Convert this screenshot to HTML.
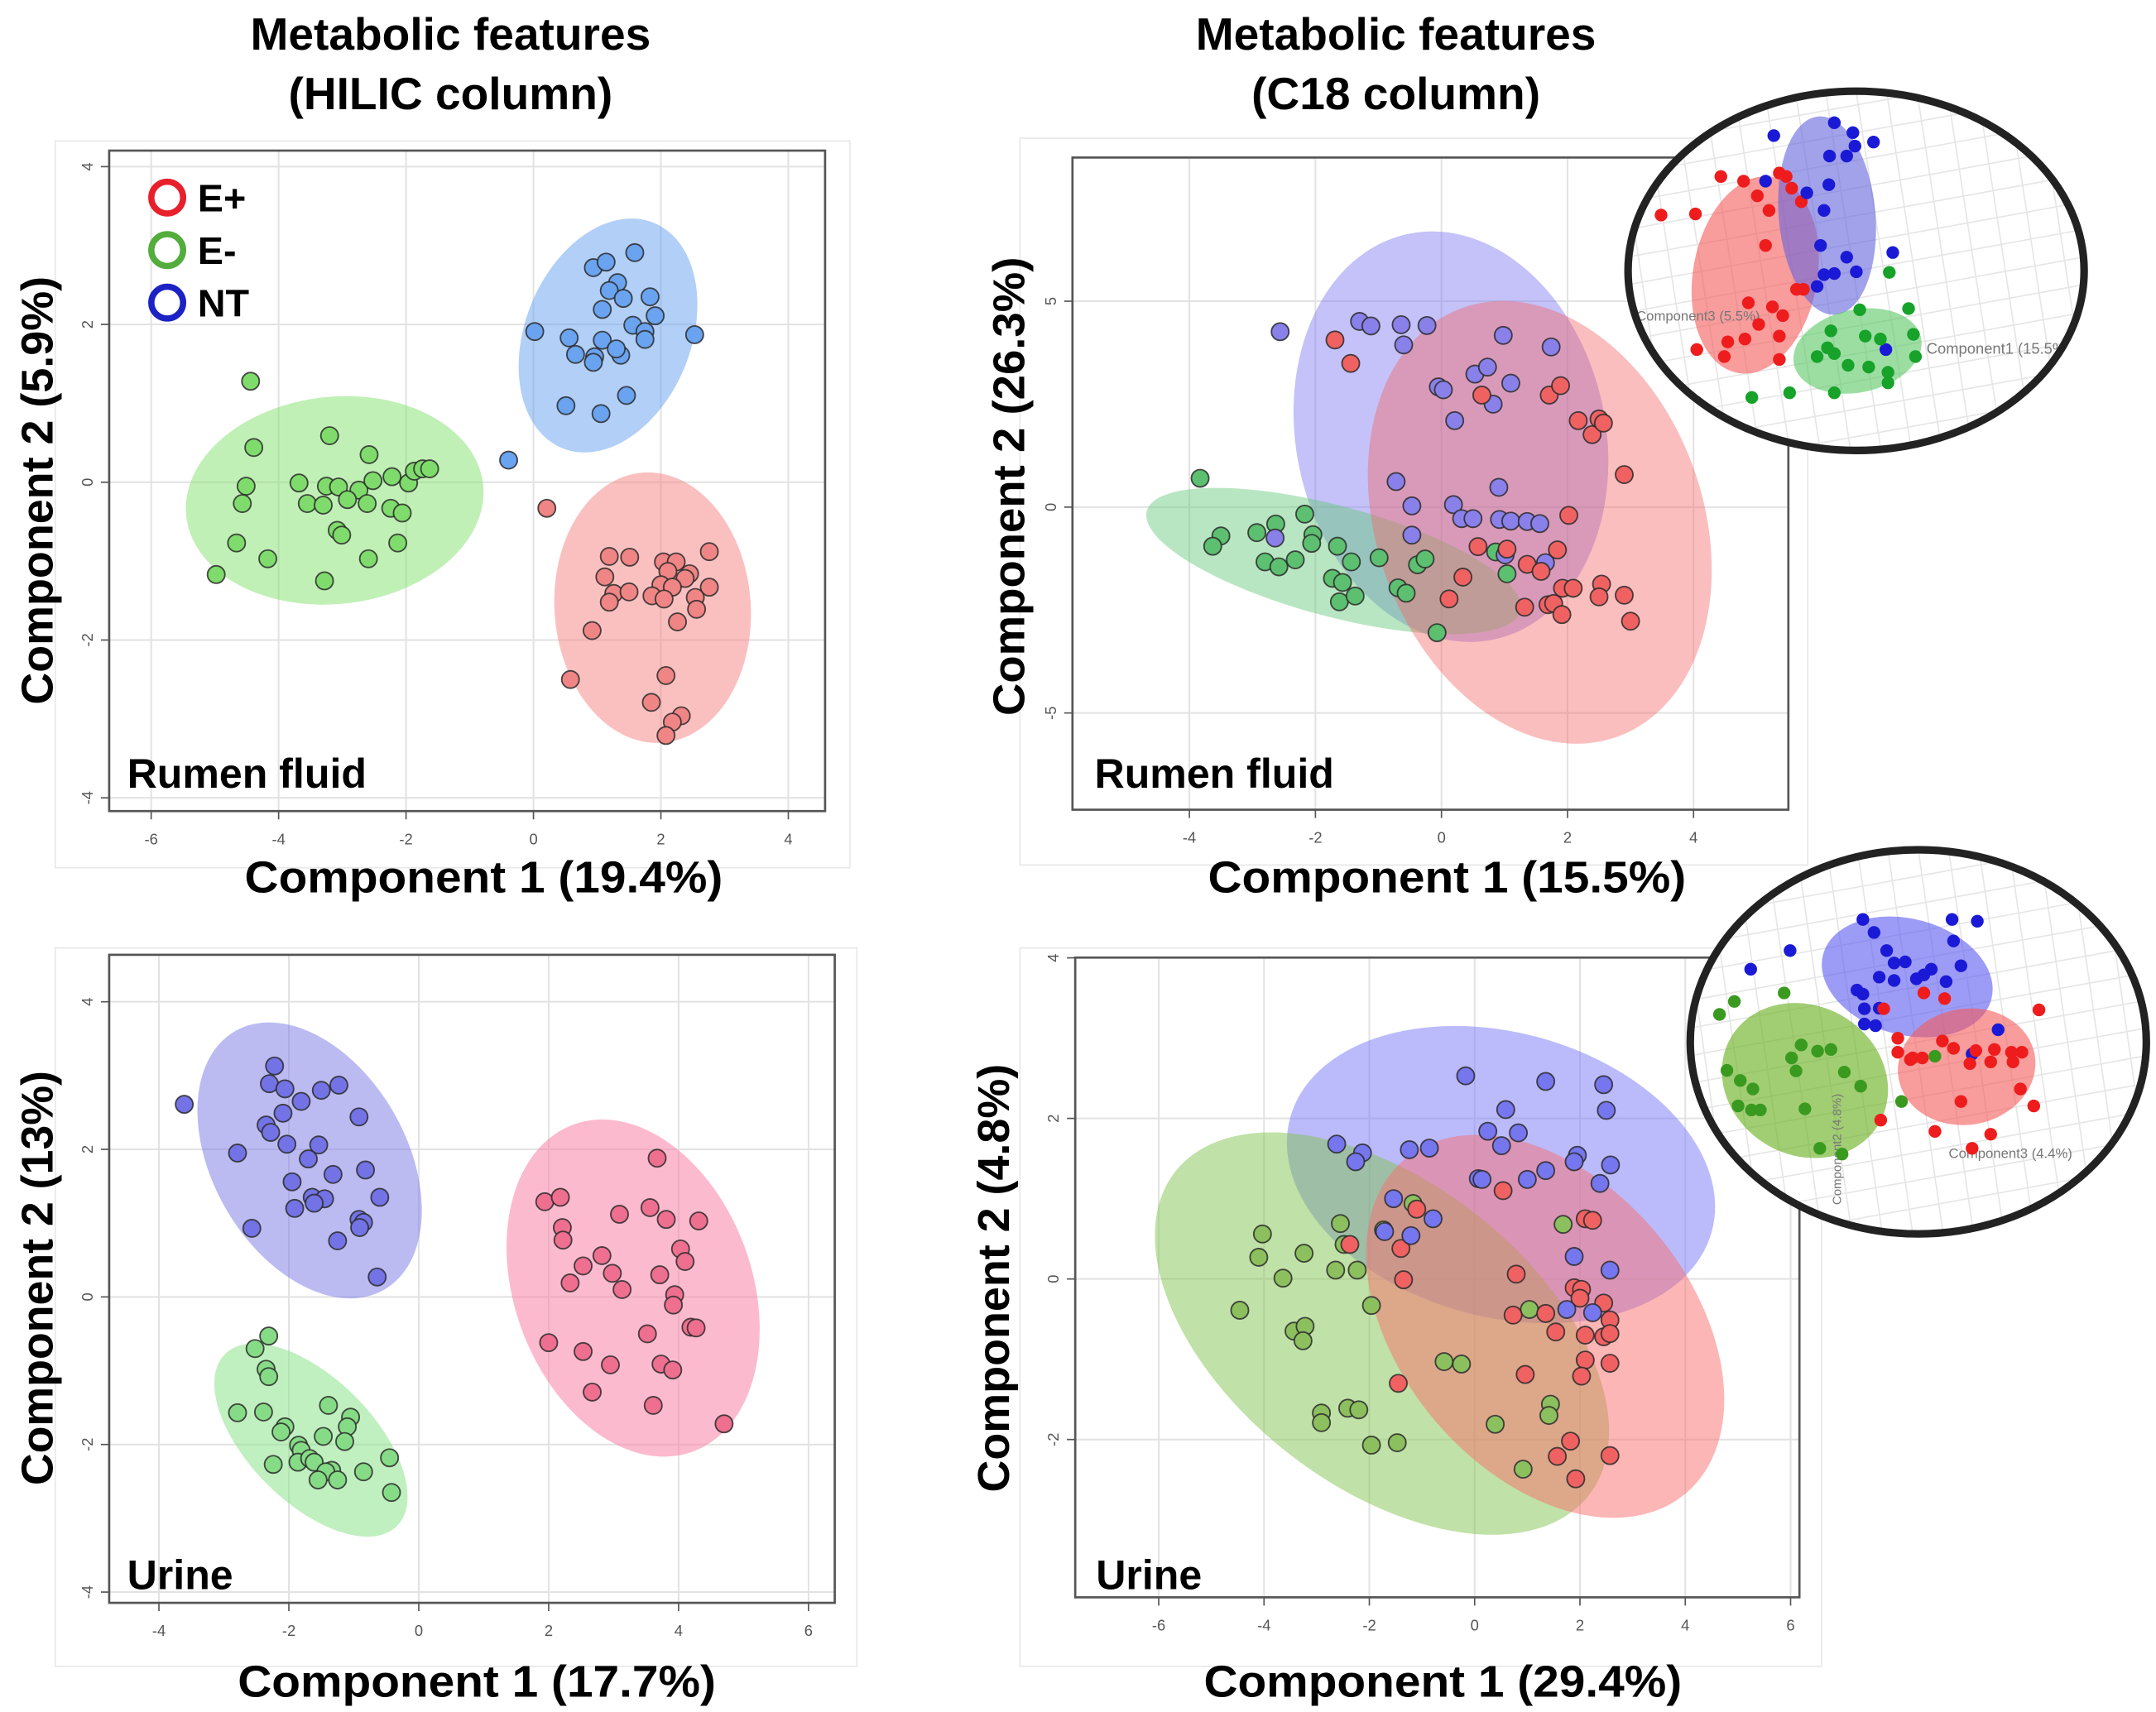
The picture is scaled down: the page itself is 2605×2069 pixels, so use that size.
<!DOCTYPE html>
<html><head><meta charset="utf-8"><style>
html,body{margin:0;padding:0;background:#fff;}
svg{display:block;}
text{font-family:"Liberation Sans",Arial,sans-serif;}
.b{font-weight:bold;fill:#000;}
.tick{font-size:11px;fill:#555;}
</style></head><body>
<svg id="fig" width="2605" height="2069" viewBox="0 0 1560 1239" preserveAspectRatio="none" xmlns="http://www.w3.org/2000/svg">
<rect width="1560" height="1239" fill="#fff"/>
<text class="b" x="326" y="36" font-size="33" text-anchor="middle">Metabolic features</text>
<text class="b" x="326" y="79" font-size="33" text-anchor="middle">(HILIC column)</text>
<text class="b" x="1010" y="36" font-size="33" text-anchor="middle">Metabolic features</text>
<text class="b" x="1010" y="79" font-size="33" text-anchor="middle">(C18 column)</text>
<g id="layer"></g>
</svg>
<script>
// ===== Panel 1: HILIC rumen fluid =====
const p1XTicks=[-6,-4,-2,0,2,4];
const p1YTicks=[4,2,0,-2,-4];
const p1NTx=[0.94,1.14,1.59,1.32,1.19,1.41,1.83,1.08,1.91,0.02,0.56,1.08,1.56,1.75,1.75,2.53,0.66,0.96,0.94,1.37,1.30,1.46,0.51,1.06,-0.39];
const p1NTy=[2.72,2.79,2.91,2.53,2.43,2.33,2.35,2.19,2.11,1.91,1.83,1.80,1.99,1.91,1.81,1.87,1.62,1.59,1.52,1.61,1.69,1.10,0.97,0.87,0.28];
const p1EMx=[-4.44,-3.20,-4.39,-2.58,-4.51,-3.68,-3.25,-3.06,-2.74,-2.52,-2.22,-1.96,-1.87,-1.74,-1.63,-4.57,-3.55,-3.30,-2.92,-2.61,-2.24,-2.06,-3.08,-3.01,-4.66,-2.13,-4.17,-2.59,-4.98,-3.28];
const p1EMy=[1.28,0.59,0.44,0.35,-0.05,-0.01,-0.05,-0.06,-0.10,0.02,0.07,-0.01,0.14,0.17,0.17,-0.27,-0.27,-0.29,-0.22,-0.27,-0.33,-0.39,-0.61,-0.67,-0.77,-0.77,-0.97,-0.97,-1.17,-1.25];
const p1EPx=[0.21,1.19,1.51,2.04,2.24,2.76,2.11,1.12,2.45,2.38,2.76,2.00,2.18,1.26,1.50,1.86,2.05,2.54,1.19,2.56,2.26,0.92,0.58,2.08,1.85,2.32,2.18,2.08];
const p1EPy=[-0.33,-0.94,-0.95,-1.01,-1.01,-0.88,-1.13,-1.20,-1.16,-1.22,-1.33,-1.30,-1.33,-1.41,-1.39,-1.44,-1.48,-1.46,-1.52,-1.61,-1.77,-1.88,-2.50,-2.45,-2.79,-2.96,-3.04,-3.21];
const p1Centers=[[1.17,1.86],[-3.12,-0.23],[1.87,-1.59]];
// ===== Panel 2: C18 rumen fluid =====
const p2XTicks=[-4,-2,0,2,4];
const p2YTicks=[5,0,-5];
const p2NTx=[-2.56,-1.30,-1.12,-0.64,-0.23,-0.60,0.98,1.74,0.53,0.73,-0.05,0.03,1.10,0.82,0.21,-0.72,0.91,-0.47,0.19,0.32,0.50,0.92,1.10,1.36,1.56,-2.64,-0.47,1.01,1.65];
const p2NTy=[4.26,4.51,4.40,4.43,4.41,3.94,4.17,3.89,3.23,3.40,2.92,2.85,3.01,2.50,2.10,0.62,0.48,0.03,0.06,-0.28,-0.28,-0.30,-0.34,-0.35,-0.40,-0.75,-0.68,-1.16,-1.35];
const p2EPx=[-1.69,-1.44,0.64,1.71,1.89,2.17,2.39,2.50,2.57,2.90,2.02,0.58,1.04,1.84,1.36,1.58,0.34,1.92,2.09,2.54,2.50,2.90,0.12,1.32,1.69,1.78,1.91,3.00];
const p2EPy=[4.06,3.49,2.72,2.72,2.95,2.10,1.76,2.14,2.04,0.79,-0.20,-0.96,-1.02,-1.04,-1.39,-1.56,-1.70,-1.97,-1.97,-1.87,-2.18,-2.14,-2.23,-2.43,-2.37,-2.34,-2.61,-2.77];
const p2EMx=[-3.83,-2.17,-3.50,-3.63,-2.93,-2.63,-2.04,-2.06,-1.65,-2.80,-2.58,-2.32,-1.43,-0.99,-0.38,-0.26,-1.73,-1.57,-1.62,-1.37,-0.69,-0.56,0.86,1.04,-0.07];
const p2EMy=[0.70,-0.17,-0.70,-0.95,-0.62,-0.41,-0.67,-0.88,-0.95,-1.33,-1.45,-1.28,-1.33,-1.23,-1.40,-1.26,-1.73,-1.83,-2.30,-2.16,-1.96,-2.09,-1.09,-1.62,-3.05];
const p2Centers=[[0.15,1.71],[-1.71,-1.31],[1.56,-0.37]];
// ===== Panel 3: HILIC urine =====
const p3XTicks=[-4,-2,0,2,4,6];
const p3YTicks=[4,2,0,-2,-4];
const p3NTx=[-3.61,-2.22,-2.30,-2.06,-1.81,-1.50,-1.23,-2.09,-2.35,-2.28,-0.92,-2.79,-2.03,-1.54,-1.70,-0.82,-1.32,-1.95,-1.64,-1.45,-1.61,-0.60,-1.91,-0.92,-0.85,-0.91,-2.57,-1.25,-0.64];
const p3NTy=[2.61,3.13,2.89,2.82,2.65,2.80,2.87,2.49,2.33,2.23,2.44,1.95,2.07,2.06,1.87,1.72,1.66,1.56,1.35,1.33,1.27,1.35,1.20,1.05,1.01,0.94,0.93,0.76,0.27];
const p3EMx=[-2.31,-2.52,-2.35,-2.31,-2.79,-2.39,-1.39,-1.05,-2.06,-2.12,-1.10,-1.47,-1.14,-1.85,-1.81,-1.86,-1.68,-1.61,-2.24,-1.34,-1.43,-1.55,-1.25,-0.85,-0.45,-0.42];
const p3EMy=[-0.53,-0.70,-0.98,-1.08,-1.57,-1.56,-1.47,-1.63,-1.76,-1.83,-1.76,-1.89,-1.96,-2.01,-2.08,-2.24,-2.19,-2.24,-2.27,-2.35,-2.37,-2.48,-2.48,-2.37,-2.18,-2.65];
const p3EPx=[3.67,1.94,2.18,2.21,2.22,3.09,3.56,3.81,4.31,2.82,2.53,4.03,4.10,2.98,3.71,2.33,3.13,3.94,3.92,4.19,4.27,2.00,3.52,2.53,2.95,3.73,3.91,2.67,3.61,4.70];
const p3EPy=[1.88,1.29,1.35,0.94,0.77,1.12,1.21,1.05,1.03,0.56,0.42,0.65,0.48,0.32,0.30,0.19,0.10,0.03,-0.11,-0.41,-0.42,-0.62,-0.50,-0.74,-0.92,-0.91,-0.99,-1.29,-1.47,-1.72];
const p3Centers=[[-1.68,1.85],[-1.66,-1.94],[3.30,0.12]];
// ===== Panel 4: C18 urine =====
const p4XTicks=[-6,-4,-2,0,2,4,6];
const p4YTicks=[4,2,0,-2];
const p4NTx=[-0.17,1.35,2.45,2.50,0.59,0.25,0.83,0.51,-2.62,-2.13,-2.26,-1.24,-0.86,1.95,1.89,2.58,1.35,0.07,0.14,1.00,2.38,-1.54,-0.79,-1.71,-1.21,1.89,2.57,1.75,2.24];
const p4NTy=[2.53,2.46,2.42,2.10,2.11,1.84,1.82,1.66,1.68,1.57,1.46,1.61,1.63,1.54,1.46,1.42,1.35,1.25,1.24,1.24,1.19,1.00,0.75,0.59,0.54,0.28,0.11,-0.38,-0.42];
const p4EMx=[-2.55,-4.03,-4.10,-3.24,-3.64,-2.64,-2.23,-2.48,-1.17,-1.73,1.68,-4.46,-1.96,-3.43,-3.22,-3.26,1.04,-0.58,-0.25,-2.41,-2.20,-2.91,-2.91,-1.96,-1.47,0.39,1.44,1.41,0.92];
const p4EMy=[0.69,0.56,0.27,0.32,0.01,0.11,0.11,0.43,0.94,0.61,0.68,-0.39,-0.33,-0.65,-0.59,-0.77,-0.38,-1.03,-1.06,-1.61,-1.63,-1.67,-1.79,-2.07,-2.04,-1.81,-1.56,-1.70,-2.37];
const p4EPx=[0.54,-1.10,2.10,2.24,-2.37,-1.40,-1.35,0.79,1.89,2.03,2.00,2.45,0.73,1.35,2.57,1.54,2.10,2.45,2.57,2.10,2.57,0.96,2.03,-1.45,1.82,1.57,2.57,1.92];
const p4EPy=[1.10,0.87,0.75,0.73,0.43,0.38,-0.01,0.06,-0.11,-0.13,-0.24,-0.30,-0.45,-0.43,-0.51,-0.66,-0.70,-0.72,-0.68,-1.01,-1.05,-1.19,-1.21,-1.30,-2.02,-2.21,-2.20,-2.49];
const p4Centers=[[0.50,1.30],[-1.76,-0.68],[1.34,-0.59]];
// ===== Insets (3D views, in source-image screen units) =====
const in1RedX=[848,898,935,968,1020,1030,1038,1052,988,1005,1000,1045,1010,1025,990,970,945,940,900,1020,1020,975,1055];
const in1RedY=[368,366,302,310,296,302,322,345,335,360,420,495,525,540,555,580,585,610,598,575,615,518,495];
const in1BlueX=[1012,1100,1127,1130,1157,1093,1118,1000,1060,1092,1085,1080,1118,1100,1132,1075,1085,1185,1175];
const in1BlueY=[232,210,227,250,243,267,267,310,330,316,360,420,440,468,465,490,470,432,598];
const in1GreenX=[1180,1137,1208,1095,1145,1167,1215,1075,1100,1120,1150,1178,1178,1100,1035,980,1218,1090];
const in1GreenY=[466,530,528,566,575,580,572,610,605,625,628,637,655,672,672,680,610,595];
const in2BlueX=[1168,1288,1322,1183,1070,1017,1200,1225,1210,1290,1300,1190,1210,1250,1260,1280,1240,1168,1170,1190,1170,1185,1350,1315,1160];
const in2BlueY=[160,160,163,183,215,248,215,235,237,198,242,262,268,258,248,270,265,292,318,317,345,348,355,398,285];
const in2RedX=[1250,1278,1196,1405,1215,1275,1215,1232,1248,1290,1320,1345,1368,1382,1312,1340,1370,1380,1300,1398,1192,1265,1315,1340,1235];
const in2RedY=[290,300,318,320,370,375,395,408,405,388,392,390,395,395,415,412,412,460,482,490,515,535,565,540,405];
const in2GreenX=[995,1062,975,1085,1107,1125,1072,1078,985,1003,1143,1165,1020,1000,1018,1030,1090,1220,1110,1140,1265];
const in2GreenY=[305,290,328,382,393,390,405,428,427,445,430,455,460,490,497,497,495,482,565,575,402];

const NS='http://www.w3.org/2000/svg';
const layer=document.getElementById('layer');
function mk(tag,attrs,parent){const e=document.createElementNS(NS,tag);for(const k in attrs)e.setAttribute(k,attrs[k]);(parent||layer).appendChild(e);return e;}

function panel(cfg){
  const g=mk('g',{});
  
  
  const sx=v=>cfg.x0+v*cfg.xu, sy=v=>cfg.y0-v*cfg.yu;
  const fr=mk('rect',{x:cfg.frame[0],y:cfg.frame[1],width:cfg.frame[2],height:cfg.frame[3],fill:'#fff',stroke:'#e8e8e8','stroke-width':1},g);
  
  
  const [L,T,R,B]=cfg.box;
  cfg.xt.forEach(t=>{const x=sx(t);
    const gl=mk('line',{x1:x,x2:x,y1:T,y2:B,stroke:'#e2e2e2','stroke-width':1.2},g);
    
    
    mk('line',{x1:x,x2:x,y1:B,y2:B+6,stroke:'#555','stroke-width':1},g);
    const tl=mk('text',{x:x,y:B+24,'text-anchor':'middle',class:'tick'},g);tl.textContent=t;
    
    
  });
  cfg.yt.forEach(t=>{const y=sy(t);
    const gl=mk('line',{x1:L,x2:R,y1:y,y2:y,stroke:'#e2e2e2','stroke-width':1.2},g);
    
    
    mk('line',{x1:L-6,x2:L,y1:y,y2:y,stroke:'#555','stroke-width':1},g);
    const tl=mk('text',{x:L-16,y:y,'text-anchor':'middle',class:'tick',transform:`rotate(-90 ${L-16} ${y})`,dy:4},g);tl.textContent=t;
    
    
  });
  const bx=mk('rect',{x:L,y:T,width:R-L,height:B-T,fill:'none',stroke:'#555','stroke-width':1.6},g);
  
  
  const names=['ellipse-nt','ellipse-e-minus','ellipse-e-plus'];
  cfg.ell.forEach((e,i)=>{const c=cfg.centers[i];const cx=sx(c[0]),cy=sy(c[1]);
    const el=mk('ellipse',{cx:cx,cy:cy,rx:e[0],ry:e[1],transform:`rotate(${e[2]} ${cx} ${cy})`,fill:e[3]},g);
    
    
  });
  const order=cfg.order||[0,1,2];
  order.forEach(i=>{const s=cfg.series[i];
    s.xs.forEach((xv,j)=>{
      const p=mk('circle',{cx:sx(xv),cy:sy(s.ys[j]),r:6.3,fill:s.col,stroke:'#2a2a2a','stroke-width':1.1,'stroke-opacity':0.85},g);
      
      
    });
  });
  const lab=mk('text',{x:cfg.lab[0],y:cfg.lab[1],class:'b','font-size':30},g);lab.textContent=cfg.lab[2];
  
  
  const xl=mk('text',{x:cfg.xl[0],y:cfg.xl[1],class:'b','font-size':32,'text-anchor':'middle',textLength:346,lengthAdjust:'spacingAndGlyphs'},g);xl.textContent=cfg.xl[2];
  
  
  const yl=mk('text',{x:cfg.yl[0],y:cfg.yl[1],class:'b','font-size':32,'text-anchor':'middle',transform:`rotate(-90 ${cfg.yl[0]} ${cfg.yl[1]})`,textLength:cfg.yl[3],lengthAdjust:'spacingAndGlyphs'},g);yl.textContent=cfg.yl[2];
  
  
}

panel({name:'hilic-rumen-panel',x0:386,xu:46.1,y0:349,yu:57.1,box:[79,109,597,587],frame:[40,102,575,526],xt:p1XTicks,yt:p1YTicks,centers:p1Centers,
 ell:[[60,88,22,'rgba(100,160,240,0.5)'],[108,75,-6,'rgba(130,225,110,0.5)'],[71,98,-4,'rgba(245,130,130,0.5)']],
 series:[{name:'nt',xs:p1NTx,ys:p1NTy,col:'#6aa3ef'},{name:'e-minus',xs:p1EMx,ys:p1EMy,col:'#7fdc6c'},{name:'e-plus',xs:p1EPx,ys:p1EPy,col:'#f08585'}],
 lab:[92,570,'Rumen fluid'],xl:[350,646,'Component 1 (19.4%)'],yl:[38,355,'Component 2 (5.9%)',310]});

panel({name:'c18-rumen-panel',x0:1043,xu:45.6,y0:367,yu:29.8,box:[776,114,1294,586],frame:[738,100,570,526],xt:p2XTicks,yt:p2YTicks,centers:p2Centers,
 ell:[[112,150,-12,'rgba(125,120,240,0.45)'],[140,40,15,'rgba(100,200,120,0.45)'],[118,165,-20,'rgba(245,100,100,0.42)']],
 order:[1,0,2],
 series:[{name:'nt',xs:p2NTx,ys:p2NTy,col:'#8a80ea'},{name:'e-minus',xs:p2EMx,ys:p2EMy,col:'#5cc070'},{name:'e-plus',xs:p2EPx,ys:p2EPy,col:'#f06262'}],
 lab:[792,570,'Rumen fluid'],xl:[1047,646,'Component 1 (15.5%)'],yl:[741,352,'Component 2 (26.3%)',332]});

panel({name:'hilic-urine-panel',x0:303,xu:47.0,y0:938.6,yu:53.4,box:[79,691,604,1160],frame:[40,686,580,520],xt:p3XTicks,yt:p3YTicks,centers:p3Centers,
 ell:[[70,108,-30,'rgba(120,120,230,0.5)'],[88,45,45,'rgba(140,225,140,0.55)'],[86,126,-20,'rgba(250,130,165,0.55)']],
 series:[{name:'nt',xs:p3NTx,ys:p3NTy,col:'#7373e6'},{name:'e-minus',xs:p3EMx,ys:p3EMy,col:'#86dc86'},{name:'e-plus',xs:p3EPx,ys:p3EPy,col:'#ee6f8f'}],
 lab:[92,1150,'Urine'],xl:[345,1228,'Component 1 (17.7%)'],yl:[38,925,'Component 2 (13%)',300]});

panel({name:'c18-urine-panel',x0:1067,xu:38.1,y0:925.6,yu:58.1,box:[778,693,1302,1156],frame:[738,686,580,520],xt:p4XTicks,yt:p4YTicks,centers:p4Centers,
 ell:[[158,103,15,'rgba(120,120,250,0.5)'],[190,110,38,'rgba(130,195,80,0.5)'],[105,158,-40,'rgba(250,110,110,0.5)']],
 order:[1,2,0],
 series:[{name:'nt',xs:p4NTx,ys:p4NTy,col:'#7676ee'},{name:'e-minus',xs:p4EMx,ys:p4EMy,col:'#8cbf5e'},{name:'e-plus',xs:p4EPx,ys:p4EPy,col:'#f06262'}],
 lab:[793,1150,'Urine'],xl:[1044,1228,'Component 1 (29.4%)'],yl:[730,925,'Component 2 (4.8%)',310]});

// Legend
const legCols=['#e8202c','#52ad3c','#1c22c4'];
const legLabels=['E+','E-','NT'];
const lg=mk('g',{});


legLabels.forEach((l,i)=>{
  const c=mk('circle',{cx:121,cy:143+i*38,r:11.5,fill:'none',stroke:legCols[i],'stroke-width':4.5},lg);
  
  
  const t=mk('text',{x:143,y:153+i*38,class:'b','font-size':28},lg);t.textContent=l;
  
  
});

function inset(cfg){
  const g=mk('g',{});
  
  
  const cid=cfg.name+'-clip';
  const cp=mk('clipPath',{id:cid},g);
  mk('ellipse',{cx:cfg.c[0],cy:cfg.c[1],rx:cfg.c[2],ry:cfg.c[3]},cp);
  mk('ellipse',{cx:cfg.c[0],cy:cfg.c[1],rx:cfg.c[2],ry:cfg.c[3],fill:'#fff'},g);
  const inner=mk('g',{'clip-path':`url(#${cid})`},g);
  for(let k=-8;k<=8;k++){
    mk('line',{x1:cfg.c[0]+k*22,y1:cfg.c[1]-cfg.c[3],x2:cfg.c[0]+k*22+40,y2:cfg.c[1]+cfg.c[3],stroke:'#e6e6e6','stroke-width':1},inner);
    mk('line',{x1:cfg.c[0]-cfg.c[2],y1:cfg.c[1]+k*20+30,x2:cfg.c[0]+cfg.c[2],y2:cfg.c[1]+k*20-30,stroke:'#e6e6e6','stroke-width':1},inner);
  }
  const mx=v=>cfg.ox+v*cfg.kx, my=v=>cfg.oy+v*cfg.ky;
  cfg.ell.forEach(e=>{const el=mk('ellipse',{cx:e[0],cy:e[1],rx:e[2],ry:e[3],transform:`rotate(${e[4]} ${e[0]} ${e[1]})`,fill:e[5]},inner);
    
    });
  cfg.txt.forEach(t=>{const tt=mk('text',{x:t[0],y:t[1],'font-size':t[3]||10,fill:'#777',transform:t[4]?`rotate(${t[4]} ${t[0]} ${t[1]})`:''},inner);tt.textContent=t[2];
    
    });
  cfg.series.forEach(s=>{s.xs.forEach((xv,j)=>{
    const p=mk('circle',{cx:mx(xv),cy:my(s.ys[j]),r:4.6,fill:s.col},inner);
    
    });});
  const rim=mk('ellipse',{cx:cfg.c[0],cy:cfg.c[1],rx:cfg.c[2],ry:cfg.c[3],fill:'none',stroke:'#222','stroke-width':5.5},g);
  
  
}
inset({name:'c18-rumen-3d-inset',c:[1343,196,165,130],ox:780,kx:0.4975,oy:0,ky:0.423,
  ell:[[1270,199,45,72,10,'rgba(245,90,90,0.6)'],[1322,156,35,72,-5,'rgba(100,100,220,0.6)'],[1344,254,47,30,-12,'rgba(90,200,100,0.6)']],
  txt:[[1184,232,'Component3 (5.5%)',10],[1394,256,'Component1 (15.5%)',11]],
  series:[{name:'e-plus',xs:in1RedX,ys:in1RedY,col:'#ee1c1c'},{name:'nt',xs:in1BlueX,ys:in1BlueY,col:'#1a1ad6'},{name:'e-minus',xs:in1GreenX,ys:in1GreenY,col:'#17a22a'}]});
inset({name:'c18-urine-3d-inset',c:[1388,754,165,139],ox:720,kx:0.5376,oy:600,ky:0.409,
  ell:[[1380,707,63,42,15,'rgba(90,90,240,0.6)'],[1423,772,50,42,-10,'rgba(245,90,90,0.6)'],[1306,782,62,54,30,'rgba(110,180,40,0.65)']],
  txt:[[1410,838,'Component3 (4.4%)',10],[1332,872,'Component2 (4.8%)',9,-90]],
  series:[{name:'nt',xs:in2BlueX,ys:in2BlueY,col:'#1a1ad6'},{name:'e-plus',xs:in2RedX,ys:in2RedY,col:'#ee1c1c'},{name:'e-minus',xs:in2GreenX,ys:in2GreenY,col:'#3a9a20'}]});
</script>
</body></html>
